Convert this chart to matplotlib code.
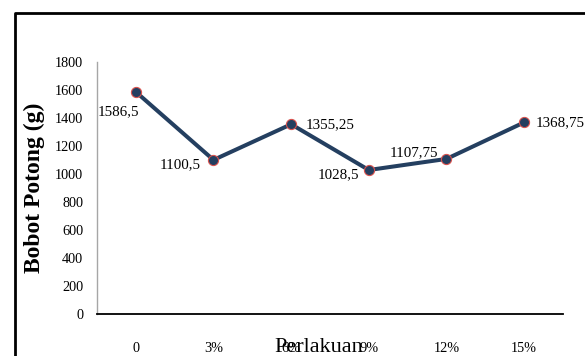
import matplotlib
matplotlib.use("Agg")
import matplotlib.pyplot as plt
from matplotlib.lines import Line2D

plt.rcParams['font.family'] = ['Liberation Serif', 'DejaVu Serif']

# Data
categories = ["0", "3%", "6%", "9%", "12%", "15%"]
bobot = [1586.5, 1100.5, 1355.25, 1028.5, 1107.75, 1368.75]
value_labels = ["1586,5", "1100,5", "1355,25", "1028,5", "1107,75", "1368,75"]
y_ticks = [0, 200, 400, 600, 800, 1000, 1200, 1400, 1600, 1800]

# label placement (pixel offsets, horizontal alignment)
label_offsets = [(3, -20, 'right'), (-13, -5, 'right'), (14, 0, 'left'),
                 (-10, -5, 'right'), (-8, 6, 'right'), (11, 0, 'left')]

W, H = 585, 356
fig = plt.figure(figsize=(W / 100, H / 100), dpi=100)
ax = fig.add_axes([97 / W, 1 - 314 / H, (563 - 97) / W, (314 - 62) / H])

x = list(range(len(categories)))
ax.plot(x, bobot, color='#243F60', lw=2.9, marker='o', markersize=7.3,
        markerfacecolor='#243F60', markeredgecolor='#D9534F', markeredgewidth=0.8,
        solid_capstyle='round', zorder=3)

for xi, yi, txt, (dx, dy, ha) in zip(x, bobot, value_labels, label_offsets):
    ax.annotate(txt, (xi, yi), xytext=(dx * 0.72, dy * 0.72), textcoords='offset points',
                ha=ha, va='center', fontsize=10.8, color='black')

ax.set_xlim(-0.5, len(categories) - 0.5)
ax.set_ylim(0, 1800)
ax.set_xticks(x)
ax.set_xticklabels(categories, fontsize=10.3)
ax.set_yticks(y_ticks)
ax.set_yticklabels([str(v) for v in y_ticks], fontsize=10.3)
ax.tick_params(axis='y', length=0, pad=10)
ax.tick_params(axis='x', length=0, pad=20)

for side in ('top', 'right'):
    ax.spines[side].set_visible(False)
ax.spines['left'].set_color('#A6A6A6')
ax.spines['left'].set_linewidth(1.0)
ax.spines['bottom'].set_color('black')
ax.spines['bottom'].set_linewidth(1.3)

fig.text(319 / W, 1 - 348 / H, "Perlakuan", fontsize=16, ha='center', va='center')
fig.text(34 / W, 1 - 188 / H, "Bobot Potong (g)", fontsize=17, fontweight='bold',
         rotation=90, ha='center', va='center')

# outer frame (left and top edges)
fx = 14.5 / W
fy = 1 - 12.5 / H
fig.add_artist(Line2D([fx, fx, 1.05], [-0.05, fy, fy], transform=fig.transFigure,
                      color='black', lw=2.0, clip_on=False))

fig.savefig("out.png", dpi=100)
